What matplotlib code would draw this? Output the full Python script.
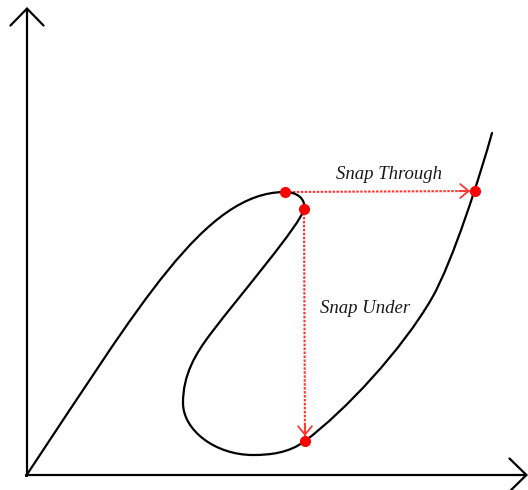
import matplotlib

matplotlib.use("Agg")
import matplotlib.pyplot as plt
from matplotlib.path import Path
from matplotlib.patches import PathPatch

# curva carga-deslocamento: vértices de Bezier cúbica (coordenadas em pixels da imagem)
# o primeiro ponto é o início, depois grupos de 3 (controle, controle, fim)
curva_x = [26,
           140, 205, 285,
           297, 306, 304,
           301, 240, 212,
           195, 183, 183,
           183, 215, 253,
           270, 289, 305,
           345, 402, 432,
           453, 480, 492]
curva_y = [476,
           305, 192, 192,
           192, 199, 209,
           224, 295, 332,
           354, 375, 403,
           430, 455, 455,
           455, 453, 441,
           411, 350, 298,
           261, 176, 133]

# pontos críticos (vermelhos)
pontos_x = [285, 304, 475, 305]
pontos_y = [192, 209, 191, 441]

# saltos: (origem, destino)
salto_through = ((285, 192), (475, 191))
salto_under = ((304, 209), (305, 441))

fig = plt.figure(figsize=(5.28, 4.90), dpi=100)
ax = fig.add_axes([0, 0, 1, 1])
ax.set_xlim(0, 528)
ax.set_ylim(490, 0)
ax.axis("off")

# eixos com setas abertas
seta_eixo = dict(arrowstyle="->,head_length=0.87,head_width=0.85", color="black",
                 lw=1.6, mutation_scale=14, shrinkA=0, shrinkB=0)
ax.annotate("", xy=(27, 7), xytext=(27, 476), arrowprops=seta_eixo)
ax.annotate("", xy=(528, 475), xytext=(26, 475), arrowprops=seta_eixo)

codigos = [Path.MOVETO] + [Path.CURVE4] * (len(curva_x) - 1)
caminho = Path(list(zip(curva_x, curva_y)), codigos)
ax.add_patch(PathPatch(caminho, fill=False, edgecolor="black", lw=1.6,
                       joinstyle="round", capstyle="round", zorder=3))

# linhas pontilhadas dos saltos
vermelho = "#ff3535"
for (x0, y0), (x1, y1) in (salto_through, salto_under):
    ax.plot([x0, x1], [y0, y1], color=vermelho, lw=1.5, ls=(0, (1.2, 0.7)), zorder=2)

seta_salto = dict(arrowstyle="->,head_length=0.6,head_width=0.5", color=vermelho,
                  lw=1.3, mutation_scale=10, shrinkA=0, shrinkB=0)
ax.annotate("", xy=(470, 191), xytext=(459, 191), arrowprops=seta_salto, zorder=4)
ax.annotate("", xy=(305, 436), xytext=(305, 425), arrowprops=seta_salto, zorder=4)

ax.plot(pontos_x, pontos_y, "o", color="red", ms=7, zorder=5)

fonte = dict(family="Liberation Serif", style="italic", fontsize=13.5, color="#1a1a1a")
ax.text(389, 174, "Snap Through", ha="center", va="center", **fonte)
ax.text(365, 308, "Snap Under", ha="center", va="center", **fonte)

fig.savefig("out.png", dpi=100)
